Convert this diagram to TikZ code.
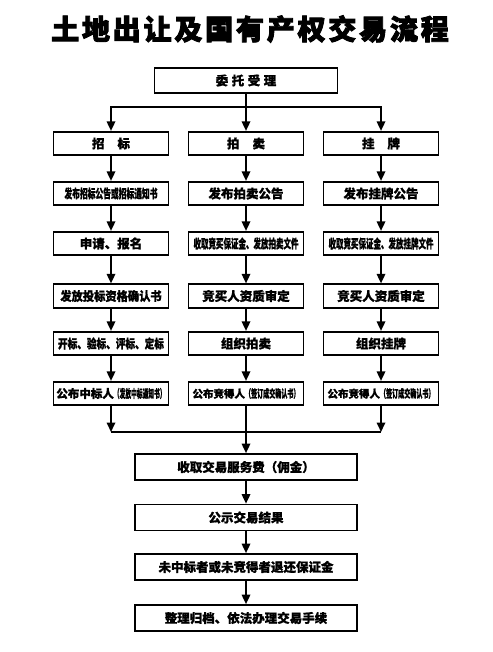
\documentclass[tikz,border=0pt]{standalone}
\usepackage{fontspec}
\usepackage{graphicx}
\setmainfont{Noto Sans CJK SC}
\usetikzlibrary{arrows.meta}
\newcommand{\sqz}[2]{\scalebox{#1}[1]{#2}}
\tikzset{
  box/.style={draw, line width=1.7pt, minimum height=23.5pt, inner sep=0pt,
    font=\bfseries\fontsize{12.5}{13}\selectfont\addfontfeature{FakeBold=1}},
  colbox/.style={box, minimum width=115pt},
  wbox/.style={box, minimum width=222pt, minimum height=26pt},
  conn/.style={line width=1.7pt},
  arr/.style={conn, -{Triangle[width=8.5pt,length=9.5pt]}},
}
\begin{document}
\begin{tikzpicture}[x=1pt,y=-1pt]
\useasboundingbox (0,0) rectangle (492,652);
\node (title) at (250,29) {\fontsize{28}{28}\selectfont\bfseries\addfontfeature{LetterSpace=10,FakeBold=3}土地出让及国有产权交易流程};

\node[box, minimum width=183pt, minimum height=25pt] (wt) at (246,80.5) {委\hspace{3.5pt}托\hspace{3.5pt}受\hspace{3.5pt}理};

% column 1: 招标
\node[colbox] (z1) at (111,143.5) {招\hspace{13pt}标};
\node[colbox] (z2) at (111,193.5) {\sqz{0.62}{发布招标公告或招标通知书}};
\node[colbox] (z3) at (111,243.5) {申请、报名};
\node[colbox] (z4) at (111,296) {\sqz{0.9}{发放投标资格确认书}};
\node[colbox] (z5) at (111,343.5) {\sqz{0.77}{开标、验标、评标、定标}};
\node[colbox] (z6) at (111,393.5) {{\fontsize{11.5}{12}\selectfont 公布中标人}\sqz{0.5}{\fontsize{11.5}{12}\selectfont（发放中标通知书）}};

% column 2: 拍卖
\node[colbox] (p1) at (246,143.5) {拍\hspace{13pt}卖};
\node[colbox] (p2) at (246,193.5) {发布拍卖公告};
\node[colbox] (p3) at (246,243.5) {\sqz{0.6}{收取竞买保证金、发放拍卖文件}};
\node[colbox] (p4) at (246,296) {竞买人资质审定};
\node[colbox] (p5) at (246,343.5) {组织拍卖};
\node[colbox] (p6) at (246,393.5) {{\fontsize{10.5}{12}\selectfont 公布竞得人}\sqz{0.55}{\fontsize{11}{12}\selectfont（签订成交确认书）}};

% column 3: 挂牌
\node[colbox] (g1) at (381,143.5) {挂\hspace{13pt}牌};
\node[colbox] (g2) at (381,193.5) {发布挂牌公告};
\node[colbox] (g3) at (381,243.5) {\sqz{0.6}{收取竞买保证金、发放挂牌文件}};
\node[colbox] (g4) at (381,296) {竞买人资质审定};
\node[colbox] (g5) at (381,343.5) {组织挂牌};
\node[colbox] (g6) at (381,393.5) {{\fontsize{10.5}{12}\selectfont 公布竞得人}\sqz{0.55}{\fontsize{11}{12}\selectfont（签订成交确认书）}};

% bottom
\node[wbox] (b1) at (246,467) {收取交易服务费（佣金）};
\node[wbox] (b2) at (246,517.5) {公示交易结果};
\node[wbox] (b3) at (246,567) {未中标者或未竞得者退还保证金};
\node[wbox] (b4) at (246,618) {整理归档、依法办理交易手续};

% connectors
\coordinate (j1) at (246,107);
\draw[arr] (wt) -- (p1);
\draw[arr] (j1) -| (z1);
\draw[arr] (j1) -| (g1);

\foreach \c in {z,p,g}{
  \draw[arr] (\c1) -- (\c2);
  \draw[arr] (\c2) -- (\c3);
  \draw[arr] (\c3) -- (\c4);
  \draw[arr] (\c4) -- (\c5);
  \draw[arr] (\c5) -- (\c6);
}

\coordinate (j2) at (246,432);
\draw[arr] (z6) -- (z6 |- j2);
\draw[arr] (g6) -- (g6 |- j2);
\draw[conn] (z6 |- j2) -- (g6 |- j2);
\draw[arr] (p6) -- (b1);
\draw[arr] (b1) -- (b2);
\draw[arr] (b2) -- (b3);
\draw[arr] (b3) -- (b4);
\end{tikzpicture}
\end{document}
